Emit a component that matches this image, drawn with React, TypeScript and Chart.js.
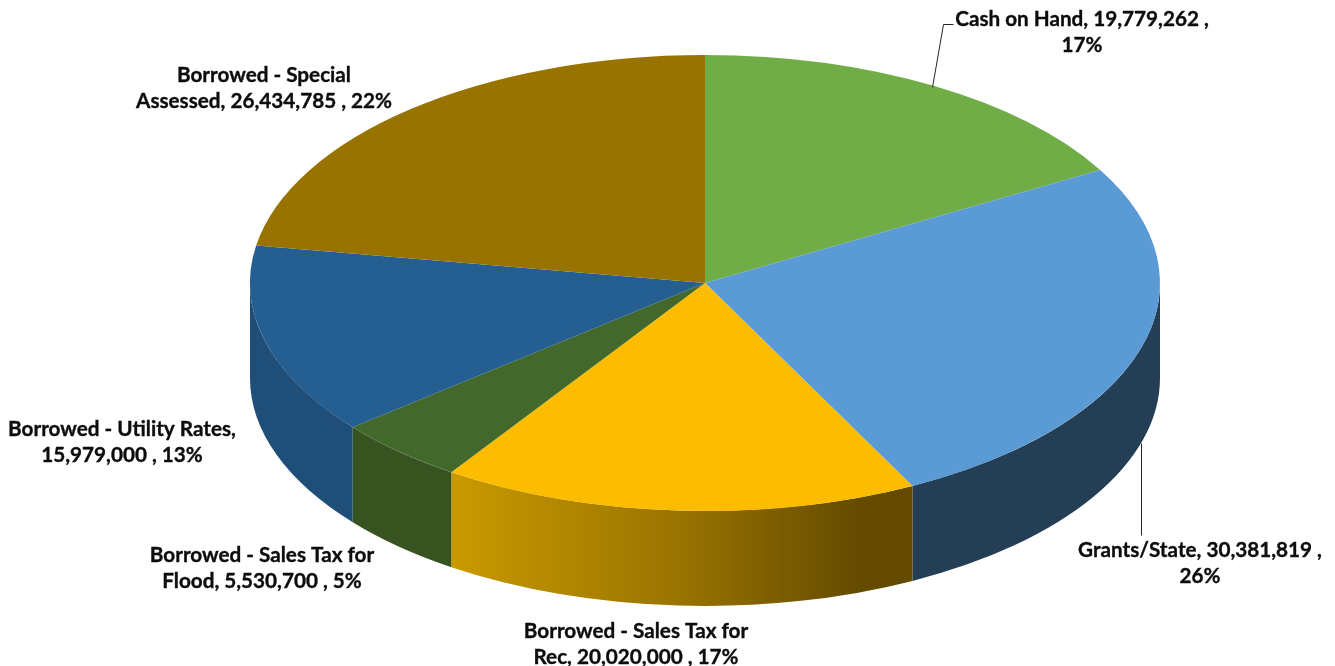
import React, { useEffect, useRef } from "react";
import { Chart, registerables } from "chart.js";

Chart.register(...registerables);

const categories = ["Cash on Hand", "Grants/State", "Borrowed - Sales Tax for Rec", "Borrowed - Sales Tax for Flood", "Borrowed - Utility Rates", "Borrowed - Special Assessed"];
const values = [19779262, 30381819, 20020000, 5530700, 15979000, 26434785];
const topColors = ["#70AD47", "#5B9BD5", "#FCBD00", "#43682B", "#255E91", "#997300"];
const wallColors = ["#43682B", "#243F55", "#997300", "#375320", "#1F4E79", "#5C4500"];
const labelLines = [
  ["Cash on Hand, 19,779,262 ,", "17%"],
  ["Grants/State, 30,381,819 ,", "26%"],
  ["Borrowed - Sales Tax for", "Rec, 20,020,000 , 17%"],
  ["Borrowed - Sales Tax for", "Flood, 5,530,700 , 5%"],
  ["Borrowed - Utility Rates,", "15,979,000 , 13%"],
  ["Borrowed - Special", "Assessed, 26,434,785 , 22%"],
];
const labelCenters = [
  [1082, 19],
  [1200, 550],
  [636, 631],
  [262, 555],
  [122, 429],
  [264, 75],
];
const leaderLines = [
  [[932, 87], [943, 24], [953, 24]],
  [[1141, 443], [1141, 535]],
];

const RX = 455;
const DEPTH = 95;
const LINE_HEIGHT = 26.5;

const pie3d = {
  id: "pie3d",
  beforeDatasetsDraw(chart: any) {
    const ctx = chart.ctx;
    const arcs = chart.getDatasetMeta(0).data;
    const cx = arcs[0].x;
    const cy = arcs[0].y;
    const ry = arcs[0].outerRadius;
    arcs.forEach((arc: any, i: number) => {
      const from = Math.max(arc.startAngle, 0);
      const to = Math.min(arc.endAngle, Math.PI);
      if (to <= from) return;
      ctx.beginPath();
      ctx.ellipse(cx, cy, RX, ry, 0, from, to, false);
      ctx.ellipse(cx, cy + DEPTH, RX, ry, 0, to, from, true);
      ctx.closePath();
      if (i === 2) {
        const x0 = cx + RX * Math.cos(to);
        const x1 = cx + RX * Math.cos(from);
        const g = ctx.createLinearGradient(x0, 0, x1, 0);
        g.addColorStop(0, "#C99A00");
        g.addColorStop(0.5, "#997300");
        g.addColorStop(0.88, "#644B00");
        g.addColorStop(1, "#644B00");
        ctx.fillStyle = g;
      } else {
        ctx.fillStyle = wallColors[i];
      }
      ctx.fill();
    });
    ctx.save();
    ctx.translate(cx, cy);
    ctx.scale(RX / ry, 1);
    ctx.translate(-cx, -cy);
  },
  afterDatasetsDraw(chart: any) {
    const ctx = chart.ctx;
    ctx.restore();
    ctx.save();
    ctx.strokeStyle = "#262626";
    ctx.lineWidth = 1;
    leaderLines.forEach((pts) => {
      ctx.beginPath();
      pts.forEach(([x, y], k) => (k ? ctx.lineTo(x + 0.5, y + 0.5) : ctx.moveTo(x + 0.5, y + 0.5)));
      ctx.stroke();
    });
    ctx.fillStyle = "#0D0D0D";
    ctx.strokeStyle = "#0D0D0D";
    ctx.lineWidth = 0.35;
    ctx.font = "bold 20.7px Lato";
    ctx.textAlign = "center";
    ctx.textBaseline = "middle";
    labelLines.forEach((lines, i) => {
      lines.forEach((t, k) => {
        ctx.fillText(t, labelCenters[i][0], labelCenters[i][1] + k * LINE_HEIGHT);
        ctx.strokeText(t, labelCenters[i][0], labelCenters[i][1] + k * LINE_HEIGHT);
      });
    });
    ctx.restore();
  },
};

export default function App() {
  const ref = useRef<HTMLCanvasElement | null>(null);
  useEffect(() => {
    const chart = new Chart(ref.current as HTMLCanvasElement, {
      type: "pie",
      data: {
        labels: categories,
        datasets: [{ data: values, backgroundColor: topColors, borderWidth: 0, clip: false } as any],
      },
      options: {
        responsive: false,
        animation: false,
        layout: { padding: { left: 75, right: 0, top: 55, bottom: 155 } },
        plugins: { legend: { display: false }, tooltip: { enabled: false } },
      },
      plugins: [pie3d],
    } as any);
    return () => chart.destroy();
  }, []);
  return (
    <div style={{ position: "absolute", left: 0, top: 0, width: 1335, height: 666, background: "#fff" }}>
      <canvas ref={ref} width={1335} height={666} style={{ display: "block" }} />
    </div>
  );
}
